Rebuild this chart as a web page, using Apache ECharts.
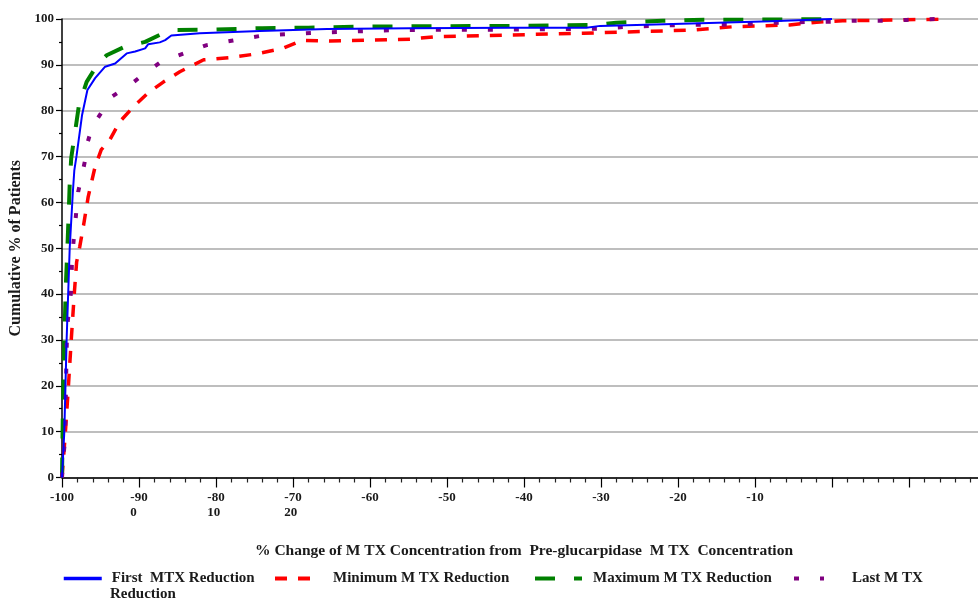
<!DOCTYPE html>
<html><head><meta charset="utf-8">
<script src="https://cdn.jsdelivr.net/npm/echarts@6/dist/echarts.min.js"></script>
<style>html,body{margin:0;padding:0;background:#fff;}#c{width:978px;height:602px;}</style>
</head><body><div id="c"></div><script>
// ---- data ----
const seriesNames = ['First  MTX Reduction', 'Minimum M TX Reduction', 'Maximum M TX Reduction', 'Last M TX Reduction'];

const firstX = [-100,-99.7,-99.4,-99.0,-98.6,-98.4,-98.1,-97.4,-96.7,-95.7,-94.4,-93.1,-91.6,-90.5,-89.2,-88.8,-87.3,-86.6,-85.8,-82.1,-74.3,-65.6,-54.8,-42,-31.9,-30.1,-17.1,-8,0];
const firstY = [0,10,30,50,62,67,70.3,79,84.5,87.1,89.6,90.3,92.5,92.9,93.6,94.5,94.9,95.4,96.4,96.9,97.4,97.8,98.0,98.1,98.1,98.5,99.1,99.5,100];

const minX = [-100,-99.6,-99.2,-98.8,-98.4,-98.1,-97.7,-97.2,-96.6,-95.7,-94.9,-93.8,-92.5,-90.7,-88.8,-86.8,-84.7,-81.6,-78.2,-74.7,-71.3,-68.9,-65.2,-54.8,-51.8,-32.3,-18,-12.9,-5.5,-2,1.4,8.4,15];
const minY = [0,8.9,19,30,40.2,47,50.3,55,61.2,67.8,71.5,73.6,77.6,80.9,83.9,86.3,88.5,91.1,91.6,92.4,93.6,95.3,95.2,95.6,96.1,96.9,97.6,98.3,98.7,99.3,99.6,99.8,100];

const maxX = [-100,-99.9,-99.7,-99.5,-99.3,-99.1,-99.0,-98.8,-98.3,-97.8,-96.8,-95.3,-94.2,-91.8,-89.2,-87.1,-85.6,-80,-74,-68,-62,-56,-40,-30.5,-28,-22,-18,-5,0];
const maxY = [0,13,30,42,50,59,64,69.7,75.4,81.2,86.3,90.3,92.1,94,95,96.7,97.6,97.7,98,98.1,98.3,98.4,98.5,98.7,99.2,99.6,99.8,99.9,100];

const lastX = [-100,-99.8,-99.6,-99.4,-99.3,-98.8,-98.7,-98.3,-98.1,-97.9,-97.4,-97,-96.7,-96.1,-94.8,-93.5,-91.2,-89.2,-87.1,-84.2,-81.2,-77.8,-74.3,-70.8,-67.1,-63.5,-59.8,-56.1,-40,-30,-26.7,-19.5,-12.4,-8.7,-5,0,2.6,6,9.7,13.4];
const lastY = [0,4.9,8.2,28,33.3,40.9,47.9,55.1,58.8,62.3,66,69.2,72.9,76.5,79.8,83.1,85.6,88.2,90.7,92.5,94.3,95.3,96.3,96.7,97,97.2,97.4,97.6,97.7,97.9,98.3,98.7,98.8,99.1,99.3,99.4,99.6,99.6,99.8,100];

const xTickValues = [-100,-90,-80,-70,-60,-50,-40,-30,-20,-10,0,10,20];
const xTickTop    = ['-100','-90','-80','-70','-60','-50','-40','-30','-20','-10','','',''];
const xTickBottom = ['','0','10','20','','','','','','','','',''];

const yTitle = 'Cumulative % of Patients';
const xTitle = '% Change of M TX Concentration from  Pre-glucarpidase  M TX  Concentration';

// ---- rendering ----
const FONT = 'Liberation Serif';
const TXT = '#1a1a1a';
const zip = (xs, ys) => xs.map((x, i) => [x, ys[i]]);

const ctx = document.createElement('canvas').getContext('2d');
ctx.font = 'bold 13px "' + FONT + '"';
const rich = { t: { fontFamily: FONT, fontWeight: 'bold', fontSize: 13, color: TXT, lineHeight: 15 } };
xTickValues.forEach((v, i) => {
  const pad = Math.max(0, ctx.measureText(xTickTop[i]).width - ctx.measureText(xTickBottom[i]).width);
  rich['b' + i] = { fontFamily: FONT, fontWeight: 'bold', fontSize: 13, color: TXT, lineHeight: 15, padding: [0, pad, 0, 0] };
});

function legendAt(name, left, itemWidth, textStart, label, lw) {
  return {
    data: [name], left: left, top: 571, padding: 0, itemWidth: itemWidth, itemHeight: 14,
    formatter: () => label,
    itemStyle: { opacity: 0, borderWidth: 0 },
    lineStyle: { width: lw },
    textStyle: { fontFamily: FONT, fontWeight: 'bold', fontSize: 15, color: TXT, padding: [0, 0, 0, textStart - (left + itemWidth) - 5] }
  };
}

const chart = echarts.init(document.getElementById('c'), null, { renderer: 'canvas' });
chart.setOption({
  animation: false,
  backgroundColor: '#fff',
  grid: { left: 62, top: 19, width: 924, height: 458.5, containLabel: false, outerBoundsMode: 'none' },
  xAxis: {
    type: 'value', min: -100, max: 20, interval: 10,
    name: xTitle, nameLocation: 'middle', nameGap: 65,
    nameTextStyle: { fontFamily: FONT, fontWeight: 'bold', fontSize: 15.5, color: TXT },
    axisLine: { onZero: false, lineStyle: { color: '#000', width: 1.5 } },
    axisTick: { show: true, length: 10, lineStyle: { color: '#000', width: 1.2 } },
    minorTick: { show: true, splitNumber: 5, length: 5, lineStyle: { color: '#222', width: 1.2 } },
    splitLine: { show: false },
    axisLabel: {
      margin: 13, showMaxLabel: true, showMinLabel: true,
      formatter: (v) => {
        const i = xTickValues.indexOf(Math.round(v));
        if (i < 0 || !xTickTop[i]) return '';
        return '{t|' + xTickTop[i] + '}' + (xTickBottom[i] ? '\n{b' + i + '|' + xTickBottom[i] + '}' : '');
      },
      rich: rich
    }
  },
  yAxis: {
    type: 'value', min: 0, max: 100, interval: 10,
    name: yTitle, nameLocation: 'middle', nameGap: 36,
    nameTextStyle: { fontFamily: FONT, fontWeight: 'bold', fontSize: 16, color: TXT },
    axisLine: { show: true, onZero: false, lineStyle: { color: '#000', width: 1.5 } },
    axisTick: { show: true, length: 6, lineStyle: { color: '#000', width: 1.2 } },
    minorTick: { show: true, splitNumber: 2, length: 3, lineStyle: { color: '#000', width: 1.2 } },
    splitLine: { show: true, lineStyle: { color: '#a8a8a8', width: 1.5 } },
    axisLabel: { margin: 8, fontFamily: FONT, fontWeight: 'bold', fontSize: 13, color: TXT }
  },
  legend: [
    legendAt(seriesNames[0], 62, 38, 110, 'First  MTX Reduction', 3.5),
    legendAt(seriesNames[1], 273, 39, 331, 'Minimum M TX Reduction', 4),
    legendAt(seriesNames[2], 533, 47, 591, 'Maximum M TX Reduction', 4),
    legendAt(seriesNames[3], 792, 30, 850, 'Last M TX', 4)
  ],
  graphic: [
    { type: 'text', left: 110, top: 587, style: { text: 'Reduction', font: 'bold 15px "' + FONT + '"', fill: TXT } }
  ],
  series: [
    { name: seriesNames[0], type: 'line', data: zip(firstX, firstY), showSymbol: false, symbol: 'none', z: 4,
      lineStyle: { color: '#0000ff', width: 2 }, itemStyle: { color: '#0000ff' } },
    { name: seriesNames[1], type: 'line', data: zip(minX, minY), showSymbol: false, symbol: 'none', z: 2,
      lineStyle: { color: '#ff0000', width: 3.5, type: [12, 11], cap: 'butt' }, itemStyle: { color: '#ff0000' } },
    { name: seriesNames[2], type: 'line', data: zip(maxX, maxY), showSymbol: false, symbol: 'none', z: 3,
      lineStyle: { color: '#008000', width: 4, type: [20, 19], cap: 'butt' }, itemStyle: { color: '#008000' } },
    { name: seriesNames[3], type: 'line', data: zip(lastX, lastY), showSymbol: false, symbol: 'none', z: 3,
      lineStyle: { color: '#800080', width: 4, type: [5, 21], cap: 'butt' }, itemStyle: { color: '#800080' } }
  ]
});
</script></body></html>
